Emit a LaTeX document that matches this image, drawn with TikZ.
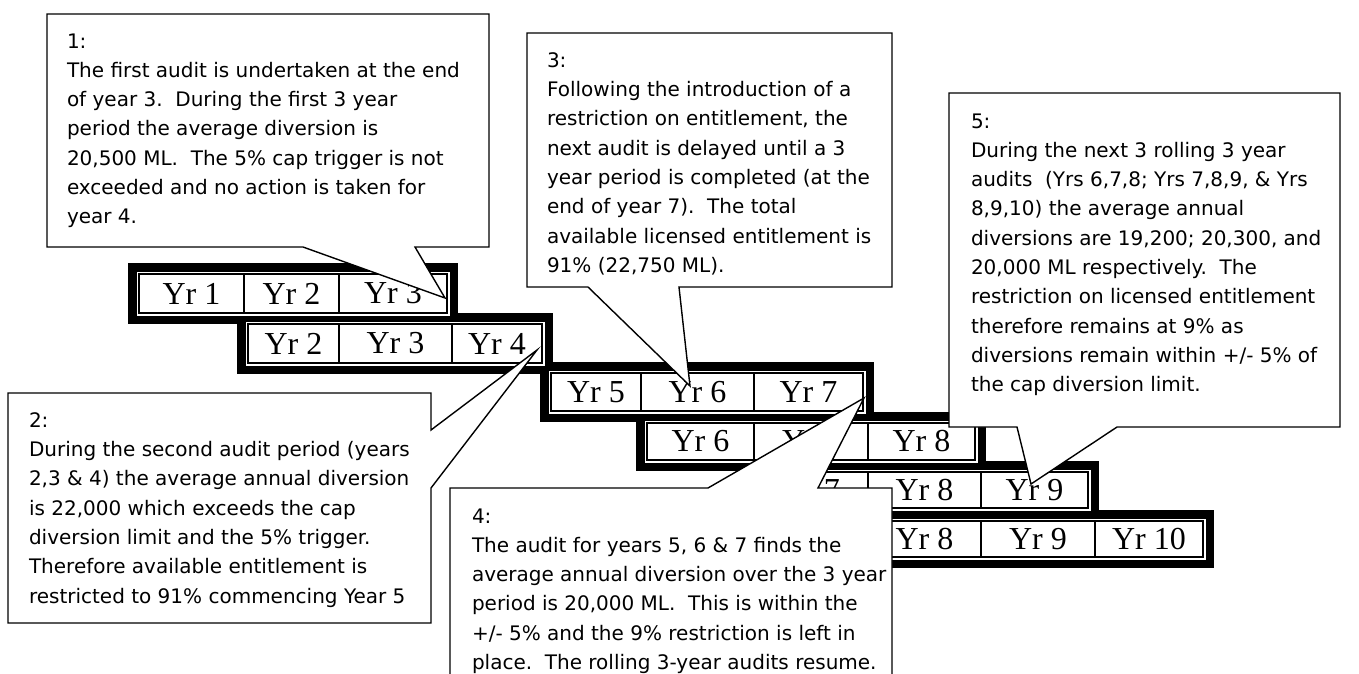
\documentclass[tikz,border=0pt]{standalone}
\usepackage{fontspec}
\setmainfont{Liberation Serif}
\newfontfamily\calloutfont{DejaVu Sans}
\tikzset{
  yrcell/.style={draw=black, line width=1.1pt, inner sep=0pt, outer sep=0pt,
    font=\fontsize{32}{32}\selectfont},
  callout/.style={draw=black, fill=white, line width=1.4pt, line join=miter},
  callouttext/.style={anchor=north west, inner sep=0pt, outer sep=0pt, align=left,
    font=\calloutfont\fontsize{20}{29.3}\selectfont},
}
% #1 x0, #2 x3, #3 ytop, #4 ybot  (cell area)
\newcommand\yrframe[4]{\fill[black] ({#1-11},{#3-11}) rectangle ({#2+11},{#4+11});}
% #1 row id, #2 first year, #3..#6 x boundaries, #7 ytop, #8 ybot
\newcommand\yrrow[8]{%
  \fill[white] ({#3-2.5},{#7-2.5}) rectangle ({#6+2.5},{#8+2.5});
  \node[yrcell, minimum width={(#4-#3)*1pt}, minimum height={(#8-#7)*1pt}]
    (r#1a) at ({(#3+#4)/2},{(#7+#8)/2}) {Yr #2};
  \node[yrcell, minimum width={(#5-#4)*1pt}, minimum height={(#8-#7)*1pt}]
    (r#1b) at ({(#4+#5)/2},{(#7+#8)/2}) {Yr \the\numexpr#2+1\relax};
  \node[yrcell, minimum width={(#6-#5)*1pt}, minimum height={(#8-#7)*1pt}]
    (r#1c) at ({(#5+#6)/2},{(#7+#8)/2}) {Yr \the\numexpr#2+2\relax};
}
\begin{document}
\begin{tikzpicture}[x=1pt, y=-1pt]
\useasboundingbox (0,0) rectangle (1359,673);
\clip (0,0) rectangle (1359,673);
% thick black frames of the six rows
\yrframe{139}{447}{274}{313}
\yrframe{248}{542}{324}{363}
\yrframe{551}{863}{373}{411}
\yrframe{647}{975}{423}{460}
\yrframe{754}{1088}{472}{508}
\yrframe{868}{1203}{521}{557}
% rows of year cells
\yrrow{1}{1}{139}{244}{339}{447}{274}{313}
\yrrow{2}{2}{248}{339}{452}{542}{324}{363}
\yrrow{3}{5}{551}{641}{754}{863}{373}{411}
\yrrow{4}{6}{647}{754}{868}{975}{423}{460}
\yrrow{5}{7}{754}{868}{981}{1088}{472}{508}
\yrrow{6}{8}{868}{981}{1095}{1203}{521}{557}
% callout tips
\coordinate (tip1) at (445,298);
\coordinate (tip2) at (537,350);
\coordinate (tip3) at (690,386);
\coordinate (tip4) at (864,398);
\coordinate (tip5) at (1031,484);
% callouts
\draw[callout] (47,14) -- (489,14) -- (489,247) -- (415,247) -- (tip1) -- (303,247) -- (47,247) -- cycle;
\draw[callout] (8,393) -- (431,393) -- (431,430) -- (tip2) -- (431,488) -- (431,623) -- (8,623) -- cycle;
\draw[callout] (527,33) -- (892,33) -- (892,287) -- (679,287) -- (tip3) -- (588,287) -- (527,287) -- cycle;
\draw[callout] (450,488) -- (708,488) -- (tip4) -- (818,488) -- (892,488) -- (892,720) -- (450,720) -- cycle;
\draw[callout] (949,93) -- (1340,93) -- (1340,427) -- (1117,427) -- (tip5) -- (1017,427) -- (949,427) -- cycle;
% callout texts
\node[callouttext] (txt1) at (67,33.5) {1:\\The first audit is undertaken at the end\\of year 3.\ \ During the first 3 year\\period the average diversion is\\20,500 ML.\ \ The 5\% cap trigger is not\\exceeded and no action is taken for\\year 4.};
\node[callouttext] (txt2) at (29,412.5) {2:\\During the second audit period (years\\2,3 \& 4) the average annual diversion\\is 22,000 which exceeds the cap\\diversion limit and the 5\% trigger.\\Therefore available entitlement is\\restricted to 91\% commencing Year 5};
\node[callouttext] (txt3) at (547,52.5) {3:\\Following the introduction of a\\restriction on entitlement, the\\next audit is delayed until a 3\\year period is completed (at the\\end of year 7).\ \ The total\\available licensed entitlement is\\91\% (22,750 ML).};
\node[callouttext] (txt4) at (472,508.5) {4:\\The audit for years 5, 6 \& 7 finds the\\average annual diversion over the 3 year\\period is 20,000 ML.\ \ This is within the\\+/- 5\% and the 9\% restriction is left in\\place.\ \ The rolling 3-year audits resume.};
\node[callouttext] (txt5) at (971,113.5) {5:\\During the next 3 rolling 3 year\\audits\ \ (Yrs 6,7,8; Yrs 7,8,9, \& Yrs\\8,9,10) the average annual\\diversions are 19,200; 20,300, and\\20,000 ML respectively.\ \ The\\restriction on licensed entitlement\\therefore remains at 9\% as\\diversions remain within +/- 5\% of\\the cap diversion limit.};
\end{tikzpicture}
\end{document}
